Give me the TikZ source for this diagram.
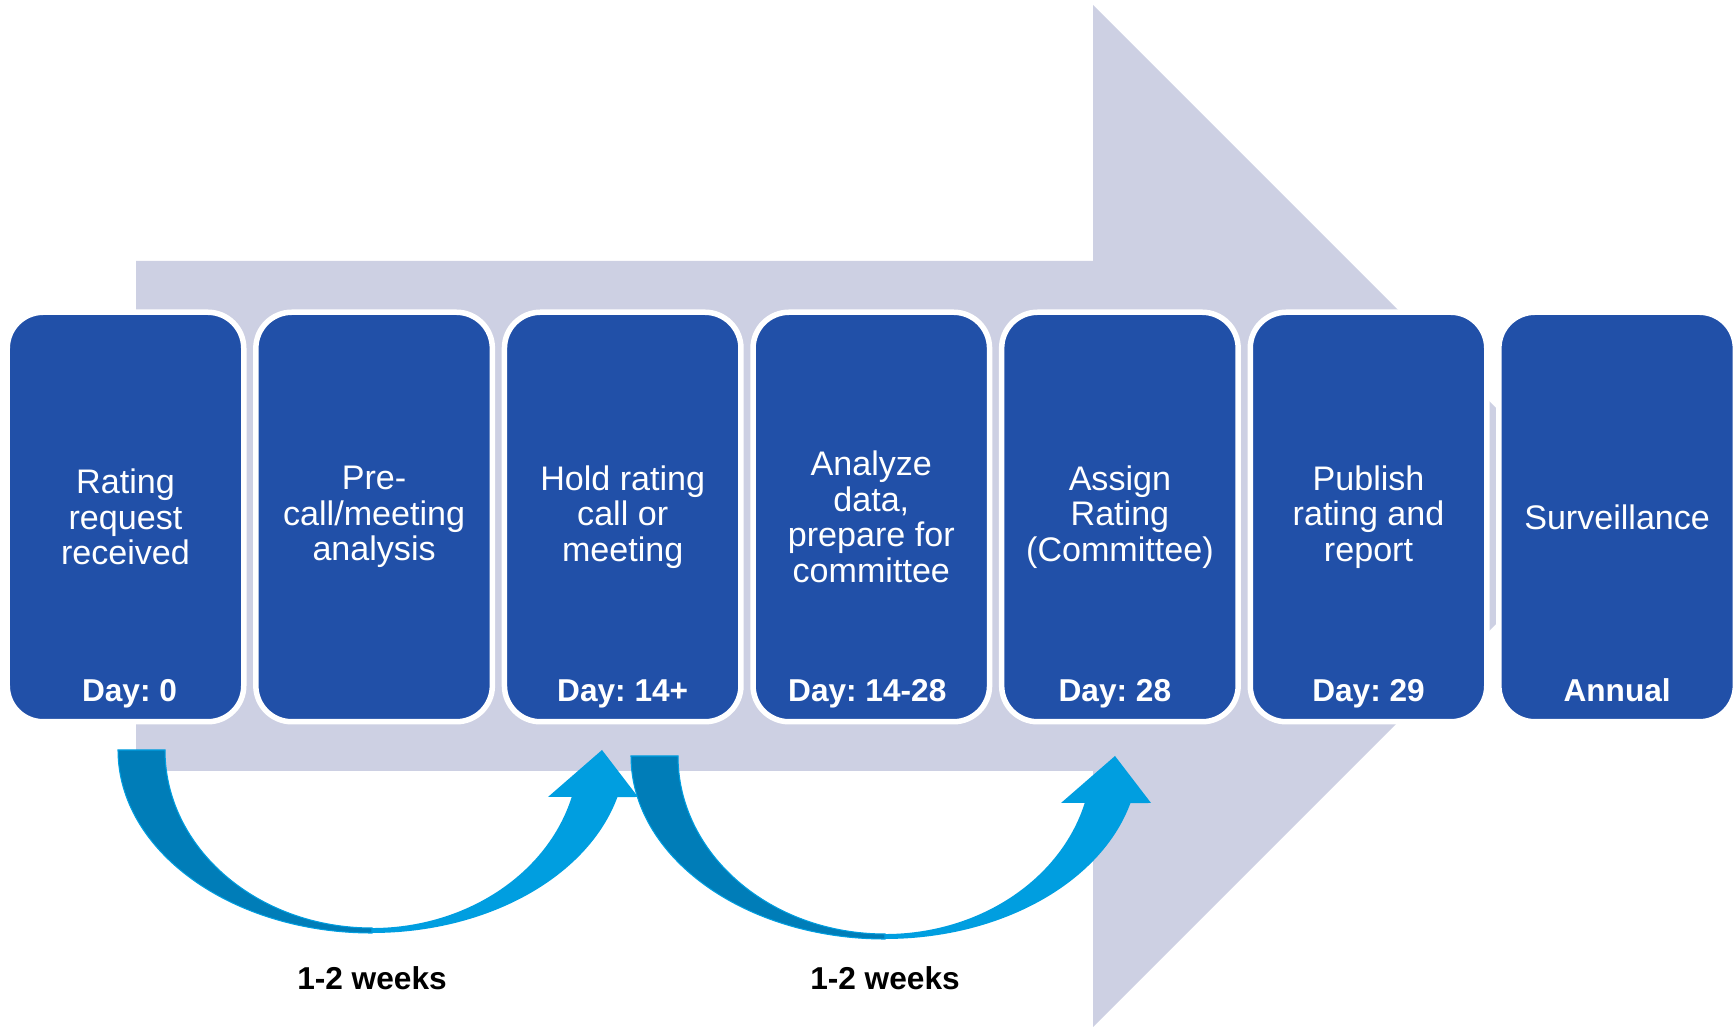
\documentclass[tikz,border=0pt]{standalone}
\usepackage{fontspec}
\setmainfont{Liberation Sans}
\frenchspacing
\definecolor{stepblue}{HTML}{2150A8}
\definecolor{bandgrey}{HTML}{CDD0E3}
\definecolor{loopdark}{HTML}{007DB8}
\definecolor{looplight}{HTML}{009EE0}

\begin{document}
\begin{tikzpicture}
        [
            phase/.style = {draw=white, line width=0.055cm, fill=stepblue, rounded corners=0.36cm, text=white, align=center, inner sep=0pt, minimum width=2.365cm, minimum height=4.095cm, font=\fontsize{9.7}{10.1}\selectfont},
            daylabel/.style = {anchor=base, text=white, inner sep=0pt, font=\fontsize{9}{10}\selectfont\bfseries},
            span/.style = {anchor=base, inner sep=0pt, font=\fontsize{9}{10}\selectfont\bfseries}
        ]
        \useasboundingbox (0,0) rectangle (17.35,10.28);
        % big grey arrow behind the steps
        \fill[bandgrey] (1.36,7.67) -- (10.93,7.67) -- (10.93,10.23) -- (16.04,5.12)
            -- (10.93,0.01) -- (10.93,2.57) -- (1.36,2.57) -- cycle;

        \def\ymid{5.11}
        \def\yday{3.26}
        \def\xpos{1.255}
        \node[phase] (request) at (\xpos, \ymid) {Rating\\request\\received};
        \node[daylabel] (day0) at ({\xpos+0.04}, \yday) {Day: 0};
        \def\xpos{3.741}
        \node[phase] (precall) at (\xpos, \ymid) {Pre-\\call/meeting\\analysis};
        \def\xpos{6.227}
        \node[phase] (meeting) at (\xpos, \ymid) {Hold rating\\call or\\meeting};
        \node[daylabel] (day14) at (\xpos, \yday) {Day: 14+};
        \def\xpos{8.713}
        \node[phase] (analyze) at (\xpos, \ymid) {Analyze\\data,\\prepare for\\committee};
        \node[daylabel] (day1428) at ({\xpos-0.04}, \yday) {Day: 14-28};
        \def\xpos{11.199}
        \node[phase] (assign) at (\xpos, \ymid) {Assign\\Rating\\(Committee)};
        \node[daylabel] (day28) at ({\xpos-0.05}, \yday) {Day: 28};
        \def\xpos{13.685}
        \node[phase] (publish) at (\xpos, \ymid) {Publish\\rating and\\report};
        \node[daylabel] (day29) at (\xpos, \yday) {Day: 29};
        \def\xpos{16.171}
        \node[phase] (watch) at (\xpos, \ymid) {Surveillance};
        \node[daylabel] (annual) at (\xpos, \yday) {Annual};

        % curved arrows under the steps
        \def\xpos{3.72}
        \def\ytop{2.78}
        \path[fill=looplight] ({\xpos}, {\ytop-1.83}) arc[start angle=270, end angle=345.1, x radius=2.54, y radius=1.83]
            -- ({\xpos+2.66}, {\ytop-0.47}) -- ({\xpos+2.30}, \ytop) -- ({\xpos+1.76}, {\ytop-0.47})
            -- ({\xpos+1.997}, {\ytop-0.47}) arc[start angle=344.7, end angle=270, x radius=2.07, y radius=1.78] -- cycle;
        \path[fill=loopdark, draw=looplight, line width=0.3pt] ({\xpos-2.54}, \ytop) arc[start angle=180, end angle=270, x radius=2.54, y radius=1.83]
            -- ({\xpos}, {\ytop-1.78}) arc[start angle=270, end angle=180, x radius=2.07, y radius=1.78] -- cycle;
        \node[span] (gap1) at (\xpos, 0.38) {1-2 weeks};

        \def\xpos{8.85}
        \def\ytop{2.72}
        \path[fill=looplight] ({\xpos}, {\ytop-1.83}) arc[start angle=270, end angle=345.1, x radius=2.54, y radius=1.83]
            -- ({\xpos+2.66}, {\ytop-0.47}) -- ({\xpos+2.30}, \ytop) -- ({\xpos+1.76}, {\ytop-0.47})
            -- ({\xpos+1.997}, {\ytop-0.47}) arc[start angle=344.7, end angle=270, x radius=2.07, y radius=1.78] -- cycle;
        \path[fill=loopdark, draw=looplight, line width=0.3pt] ({\xpos-2.54}, \ytop) arc[start angle=180, end angle=270, x radius=2.54, y radius=1.83]
            -- ({\xpos}, {\ytop-1.78}) arc[start angle=270, end angle=180, x radius=2.07, y radius=1.78] -- cycle;
        \node[span] (gap2) at (\xpos, 0.38) {1-2 weeks};
    \end{tikzpicture}
\end{document}
